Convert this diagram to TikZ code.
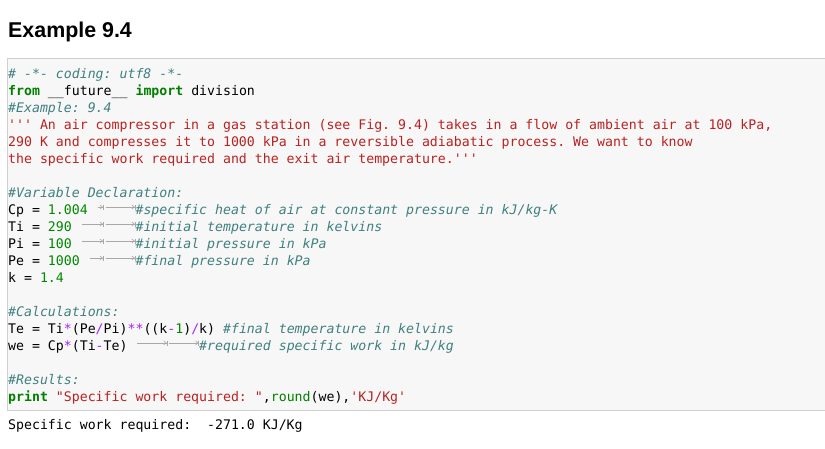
\documentclass[tikz,border=0pt]{standalone}
\usepackage{fontspec}
\setmainfont{Liberation Sans}
\setmonofont{DejaVu Sans Mono}
\usetikzlibrary{arrows.meta}
\definecolor{cmteal}{HTML}{408080}
\definecolor{kwgreen}{HTML}{008000}
\definecolor{nmgreen}{HTML}{008800}
\definecolor{stred}{HTML}{BA2121}
\definecolor{oppurple}{HTML}{AA22FF}
\definecolor{cellbg}{HTML}{F7F7F7}
\definecolor{cellline}{HTML}{CFCFCF}
\definecolor{tabgray}{HTML}{A8A8A8}
\newcommand{\codefont}{\ttfamily\fontsize{13.22}{17}\selectfont\frenchspacing}
\tikzset{
    codeline/.style = {anchor=base west, inner sep=0pt, font=\codefont},
    heading/.style = {anchor=base west, inner sep=0pt, font=\fontsize{21.4}{24}\selectfont\bfseries},
    cell/.style = {draw=cellline, fill=cellbg, line width=0.8pt},
    tabmark/.style = {draw=tabgray, line width=0.6pt, -{Straight Barb[length=2.5pt,width=4pt]Bar[width=5pt]}}
}
\newcommand{\Kw}[1]{\textcolor{kwgreen}{\textbf{#1}}}
\newcommand{\Nm}[1]{\textcolor{nmgreen}{#1}}
\newcommand{\Cm}[1]{\textcolor{cmteal}{\textit{#1}}}
\newcommand{\St}[1]{\textcolor{stred}{#1}}
\newcommand{\Op}[1]{\textcolor{oppurple}{#1}}
\newcommand{\Bi}[1]{\textcolor{kwgreen}{#1}}
\newcommand{\cw}{7.96}

\begin{document}
\begin{tikzpicture}[x=1pt,y=-1pt]
\useasboundingbox[fill=white] (0,0) rectangle (825,448);

\node[heading] at (8,37) (title) {Example 9.4};

\draw[cell] (7.5,58.5) rectangle (830,410);
%
\node[codeline] at (8,78) (l0) {\Cm{\# -*- coding: utf8 -*-}};
\node[codeline] at (8,95) (l1) {\Kw{from} \_\_future\_\_ \Kw{import} division};
\node[codeline] at (8,112) (l2) {\Cm{\#Example: 9.4}};
\node[codeline] at (8,129) (l3) {\St{''' An air compressor in a gas station (see Fig. 9.4) takes in a flow of ambient air at 100 kPa,}};
\node[codeline] at (8,146) (l4) {\St{290 K and compresses it to 1000 kPa in a reversible adiabatic process. We want to know}};
\node[codeline] at (8,163) (l5) {\St{the specific work required and the exit air temperature.'''}};
%
\node[codeline] at (8,197) (l7) {\Cm{\#Variable Declaration:}};
\node[codeline] at (8,214) (l8) {Cp = \Nm{1.004}};
\node[codeline] at (8+16*\cw,214) (c8) {\Cm{\#specific heat of air at constant pressure in kJ/kg-K}};
\node[codeline] at (8,231) (l9) {Ti = \Nm{290}};
\node[codeline] at (8+16*\cw,231) (c9) {\Cm{\#initial temperature in kelvins}};
\node[codeline] at (8,248) (l10) {Pi = \Nm{100}};
\node[codeline] at (8+16*\cw,248) (c10) {\Cm{\#initial pressure in kPa}};
\node[codeline] at (8,265) (l11) {Pe = \Nm{1000}};
\node[codeline] at (8+16*\cw,265) (c11) {\Cm{\#final pressure in kPa}};
\node[codeline] at (8,282) (l12) {k = \Nm{1.4}};
%
\node[codeline] at (8,316) (l14) {\Cm{\#Calculations:}};
\node[codeline] at (8,333) (l15) {Te = Ti\Op{*}(Pe\Op{/}Pi)\Op{**}((k\Op{-}\Nm{1})\Op{/}k) \Cm{\#final temperature in kelvins}};
\node[codeline] at (8,350) (l16) {we = Cp\Op{*}(Ti\Op{-}Te)};
\node[codeline] at (8+24*\cw,350) (c16) {\Cm{\#required specific work in kJ/kg}};
%
\node[codeline] at (8,384) (l18) {\Cm{\#Results:}};
\node[codeline] at (8,401) (l19) {\Kw{print} \St{"Specific work required: "},\Bi{round}(we),\St{'KJ/Kg'}};

\node[codeline] at (8,429) (out) {Specific work required:\ \ -271.0 KJ/Kg};

% tabs
\draw[tabmark] (8+11*\cw+2,207) -- (8+12*\cw,207);
\draw[tabmark] (8+12*\cw+2,207) -- (8+16*\cw,207);
\draw[tabmark] (8+9*\cw+2,224) -- (8+12*\cw,224);
\draw[tabmark] (8+12*\cw+2,224) -- (8+16*\cw,224);
\draw[tabmark] (8+9*\cw+2,241) -- (8+12*\cw,241);
\draw[tabmark] (8+12*\cw+2,241) -- (8+16*\cw,241);
\draw[tabmark] (8+10*\cw+2,258) -- (8+12*\cw,258);
\draw[tabmark] (8+12*\cw+2,258) -- (8+16*\cw,258);
\draw[tabmark] (8+16*\cw+2,343) -- (8+20*\cw,343);
\draw[tabmark] (8+20*\cw+2,343) -- (8+24*\cw,343);

\end{tikzpicture}
\end{document}
